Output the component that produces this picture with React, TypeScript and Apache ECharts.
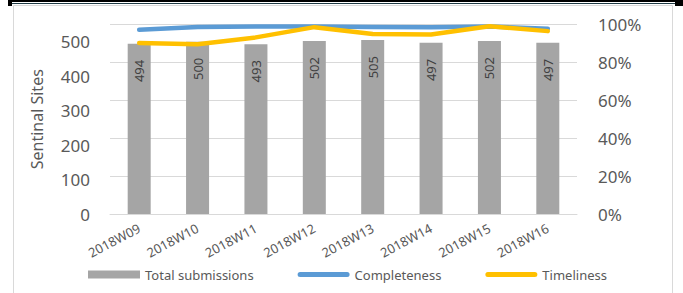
import React, { useEffect, useRef } from "react";
import * as echarts from "echarts";

const categories = ["2018W09", "2018W10", "2018W11", "2018W12", "2018W13", "2018W14", "2018W15", "2018W16"];
const totalSubmissions = [494, 500, 493, 502, 505, 497, 502, 497];
const completeness = [0.972, 0.987, 0.989, 0.989, 0.987, 0.986, 0.990, 0.977];
const timeliness = [0.902, 0.896, 0.932, 0.986, 0.950, 0.947, 0.991, 0.965];
const leftAxisName = "Sentinal Sites";
const legendNames = ["Total submissions", "Completeness", "Timeliness"];

const FONT = "'Noto Sans', sans-serif";
const TEXT = "#595959";
const LINE_ICON =
  "path://M0,0 L0,0 M52,8 L52,8 M2.5,1.5 L49.5,1.5 A2.5,2.5 0 0 1 49.5,6.5 L2.5,6.5 A2.5,2.5 0 0 1 2.5,1.5 Z";

export default function App() {
  const ref = useRef<HTMLDivElement>(null);
  useEffect(() => {
    if (!ref.current) return;
    const chart = echarts.init(ref.current, undefined, { renderer: "svg" });
    chart.setOption({
      animation: false,
      backgroundColor: "#ffffff",
      textStyle: { fontFamily: FONT },
      grid: { left: 110, right: 106, top: 24.5, bottom: 79 },
      legend: {
        left: 88,
        top: 268,
        padding: 0,
        itemWidth: 52,
        itemHeight: 8,
        itemGap: 44,
        textStyle: { fontSize: 13, color: TEXT, fontFamily: FONT },
        data: [
          { name: legendNames[0], icon: "rect" },
          { name: legendNames[1], icon: LINE_ICON, itemStyle: { color: "#5b9bd5", borderWidth: 0 } },
          { name: legendNames[2], icon: LINE_ICON, itemStyle: { color: "#ffc000", borderWidth: 0 } },
        ],
      },
      xAxis: {
        type: "category",
        data: categories,
        axisTick: { show: false },
        axisLine: { lineStyle: { color: "#d9d9d9", width: 1 } },
        axisLabel: { rotate: 28, fontSize: 13, color: TEXT, margin: 13, fontFamily: FONT },
      },
      yAxis: [
        {
          type: "value",
          min: 0,
          max: 550,
          interval: 100,
          name: leftAxisName,
          nameLocation: "middle",
          nameGap: 65,
          nameTextStyle: { fontSize: 16, color: TEXT, fontFamily: FONT },
          splitLine: { show: false },
          axisLine: { show: false },
          axisTick: { show: false },
          axisLabel: { fontSize: 17, color: TEXT, margin: 20, showMaxLabel: false, fontFamily: FONT },
        },
        {
          type: "value",
          min: 0,
          max: 1,
          interval: 0.2,
          position: "right",
          splitLine: { lineStyle: { color: "#d9d9d9", width: 1 } },
          axisLine: { show: false },
          axisTick: { show: false },
          axisLabel: {
            fontSize: 17,
            color: TEXT,
            margin: 21,
            fontFamily: FONT,
            formatter: (v: number) => Math.round(v * 100) + "%",
          },
        },
      ],
      series: [
        {
          name: legendNames[0],
          type: "bar",
          data: totalSubmissions,
          barWidth: 23,
          itemStyle: { color: "#a5a5a5" },
          label: {
            show: true,
            position: "insideTop",
            rotate: 90,
            align: "right",
            verticalAlign: "middle",
            distance: 16,
            fontSize: 13,
            color: "#404040",
            fontFamily: FONT,
          },
        },
        {
          name: legendNames[1],
          type: "line",
          yAxisIndex: 1,
          data: completeness,
          symbol: "none",
          z: 3,
          lineStyle: { color: "#5b9bd5", width: 4.5, cap: "round", join: "round" },
          itemStyle: { color: "#5b9bd5" },
        },
        {
          name: legendNames[2],
          type: "line",
          yAxisIndex: 1,
          data: timeliness,
          symbol: "none",
          z: 4,
          lineStyle: { color: "#ffc000", width: 4.5, cap: "round", join: "round" },
          itemStyle: { color: "#ffc000" },
        },
      ],
      graphic: [
        { type: "rect", shape: { x: 13.5, y: 5.5, width: 659, height: 300 }, style: { fill: "none", stroke: "#d9d9d9", lineWidth: 1 }, silent: true },
        { type: "rect", shape: { x: 8, y: 0, width: 675, height: 2 }, style: { fill: "#000000" }, silent: true },
        { type: "rect", shape: { x: 8, y: 3, width: 675, height: 1 }, style: { fill: "#1f3a44" }, silent: true },
        { type: "rect", shape: { x: 8, y: 2, width: 4, height: 4 }, style: { fill: "#000000" }, silent: true },
        { type: "rect", shape: { x: 675, y: 2, width: 8, height: 4 }, style: { fill: "#000000" }, silent: true },
      ],
    });
    return () => chart.dispose();
  }, []);
  return <div ref={ref} style={{ position: "absolute", left: 0, top: 0, width: 683, height: 293 }} />;
}
